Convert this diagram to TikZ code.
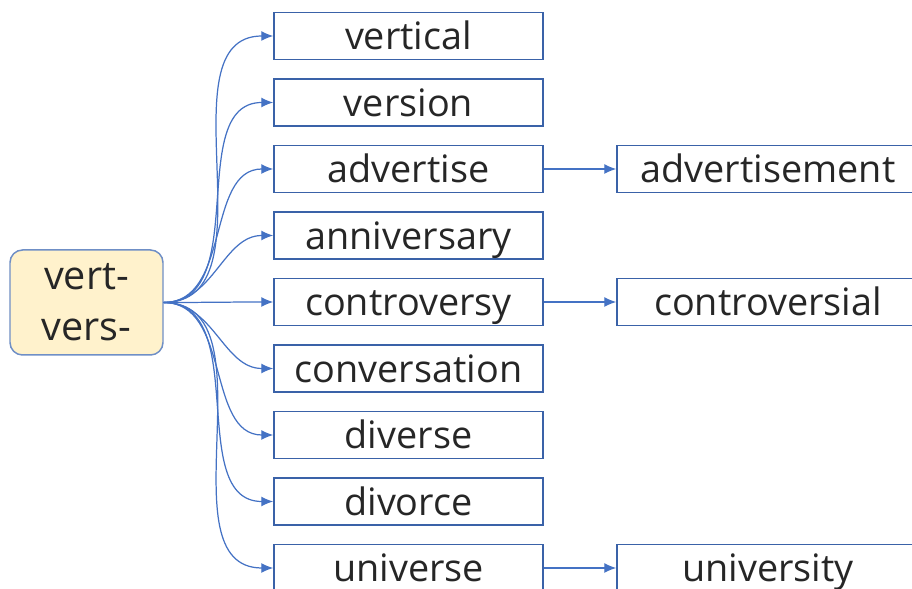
\documentclass[tikz,border=0pt]{standalone}
\usepackage{fontspec}
\setmainfont{Open Sans}
\usetikzlibrary{arrows.meta}

\definecolor{linkblue}{HTML}{4472C4}
\definecolor{boxblue}{HTML}{3A62A8}
\definecolor{rootfill}{HTML}{FFF2CC}
\definecolor{rootedge}{HTML}{6F8FC6}

\tikzset{
  wordbox/.style={draw=boxblue, line width=0.85pt, minimum width=5.38cm,
    text height=0.75cm, text depth=0.19cm, inner sep=0pt,
    font=\fontsize{21.5}{25}\selectfont, text=black!85},
  longbox/.style={wordbox, minimum width=6.04cm},
  rootbox/.style={draw=rootedge, fill=rootfill, line width=0.85pt, rounded corners=0.25cm,
    minimum width=3.06cm, minimum height=2.1cm, align=center,
    font=\fontsize{22.5}{29}\selectfont, text=black!85},
  link/.style={linkblue, line width=0.7pt, -{Latex[length=2.4mm,width=2mm]}}
}

\begin{document}
\begin{tikzpicture}
  \useasboundingbox (0, 0) rectangle (18.24, 11.78);
  \clip (0, 0) rectangle (18.24, 11.78);

  % root
  \node[rootbox] (root) at (1.73, 5.73) {vert-\\vers-};

  % words built on the root
  \node[wordbox] (vertical) at (8.17, 11.06) {vertical};
  \node[wordbox] (version) at (8.17, 9.73) {version};
  \node[wordbox] (advertise) at (8.17, 8.40) {advertise};
  \node[wordbox] (anniversary) at (8.17, 7.07) {anniversary};
  \node[wordbox] (controversy) at (8.17, 5.74) {controversy};
  \node[wordbox] (conversation) at (8.17, 4.41) {conversation};
  \node[wordbox] (diverse) at (8.17, 3.08) {diverse};
  \node[wordbox] (divorce) at (8.17, 1.75) {divorce};
  \node[wordbox] (universe) at (8.17, 0.42) {universe};

  % derived words
  \node[longbox] (advertisement) at (15.36, 8.40) {advertisement};
  \node[longbox] (controversial) at (15.36, 5.74) {controversial};
  \node[longbox] (university) at (15.36, 0.42) {university};

  % links from the root
  \foreach \w in {vertical, version, advertise, anniversary, controversy,
                  conversation, diverse, divorce, universe}
    \draw[link] (root.east) to[out=0, in=180] (\w.west);

  % links to derived words
  \draw[link] (advertise.east) -- (advertisement.west);
  \draw[link] (controversy.east) -- (controversial.west);
  \draw[link] (universe.east) -- (university.west);
\end{tikzpicture}
\end{document}
